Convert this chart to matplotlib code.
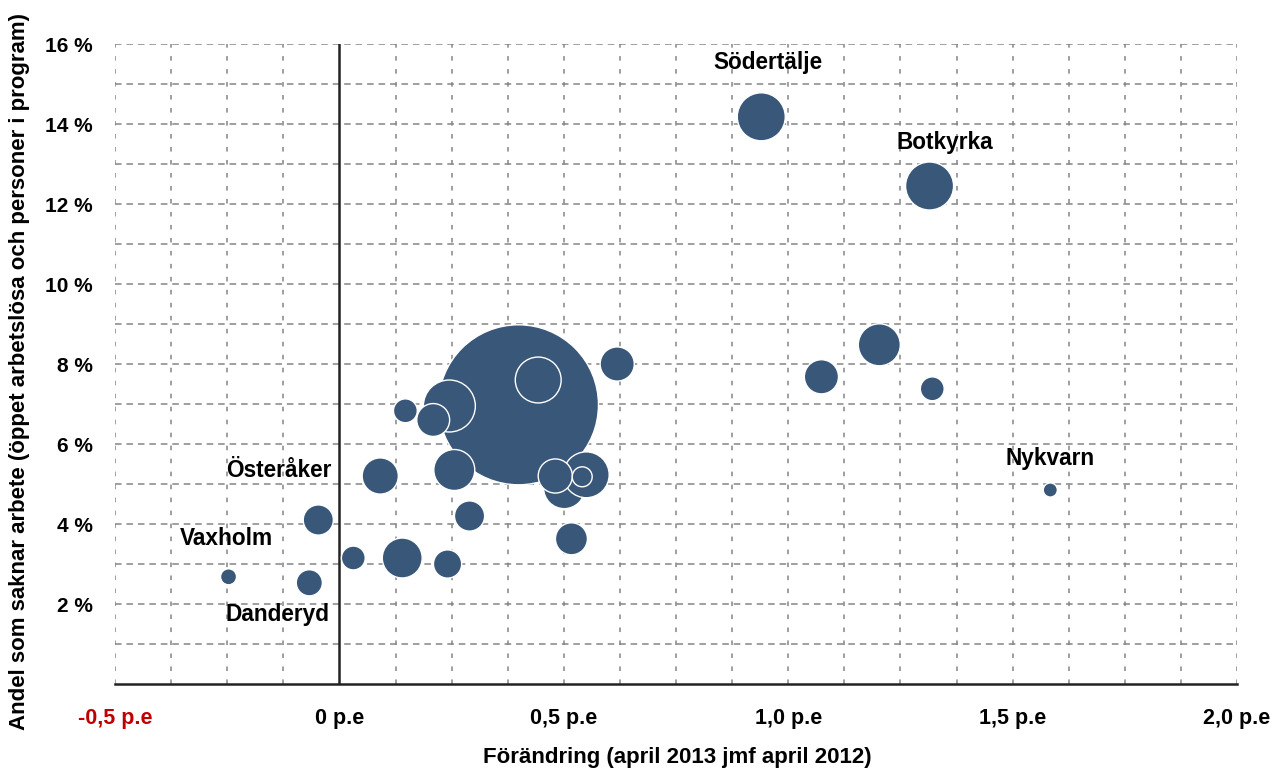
import numpy as np
import matplotlib.pyplot as plt

plt.rcParams['font.family'] = ['Liberation Sans', 'DejaVu Sans']
plt.rcParams['font.weight'] = 'bold'

# -------------------------------
# Data
# -------------------------------
# change in percentage points, April 2013 vs April 2012
change = [0.399, 0.443, 0.940, 1.315, 0.619, 0.245, 0.209, 0.147, 0.091, 0.256,
          0.501, 0.550, 0.481, 0.541, 0.290, 0.517, 0.140, 0.031, 0.241, -0.047,
          -0.067, -0.247, 1.584, 1.074, 1.203, 1.321]
# share without work (%)
share = [6.98, 7.60, 14.18, 12.45, 8.00, 6.95, 6.60, 6.83, 5.20, 5.35,
         4.90, 5.23, 5.20, 5.18, 4.20, 3.63, 3.15, 3.15, 3.00, 4.10,
         2.53, 2.68, 4.85, 7.68, 8.48, 7.38]
# bubble size (population, thousands, estimated)
population = [900, 74, 81, 81, 41, 95, 38, 20, 46, 59,
              60, 74, 41, 14, 32, 36, 56, 20, 28, 32,
              24, 9, 7, 41, 62, 20]

label_names = ["Södertälje", "Botkyrka", "Nykvarn", "Österåker", "Vaxholm", "Danderyd"]
label_x = [0.954, 1.348, 1.584, -0.136, -0.252, -0.138]
label_y = [15.55, 13.55, 5.63, 5.33, 3.63, 1.73]

xtick_vals = [-0.5, 0.0, 0.5, 1.0, 1.5, 2.0]
xtick_labels = ["-0,5 p.e", "0 p.e", "0,5 p.e", "1,0 p.e", "1,5 p.e", "2,0 p.e"]
ytick_vals = [2, 4, 6, 8, 10, 12, 14, 16]
ytick_labels = [f"{v} %" for v in ytick_vals]

# -------------------------------
# Figure
# -------------------------------
W, H = 1274, 772
fig = plt.figure(figsize=(W / 100, H / 100), dpi=100)
ax = fig.add_axes([115 / W, 1 - 684 / H, (1237 - 115) / W, (684 - 44) / H])

size_scale = (1.44 * 80) ** 2 / 900
ax.scatter(change, share, s=np.array(population) * size_scale, c="#395779",
           edgecolors="white", linewidths=1.0, zorder=3)

ax.set_xlim(-0.5, 2.0)
ax.set_ylim(0, 16)

ax.set_xticks(xtick_vals)
ax.set_xticklabels(xtick_labels)
ax.set_yticks(ytick_vals)
ax.set_yticklabels(ytick_labels)

ax.tick_params(which="both", length=0)
ax.tick_params(axis="x", pad=17, labelsize=15.5)
ax.tick_params(axis="y", pad=16, labelsize=15)
ax.get_xticklabels()[0].set_color("#c00000")

# dotted grid: horizontal every 1 %, vertical every 0.125 p.e
grid_col = "#858585"
for gy in np.arange(1, 16.5, 1):
    ax.axhline(gy, color=grid_col, linewidth=1.1, linestyle=(0, (4.3, 3.2)), zorder=0)
for gx in np.arange(-0.5, 2.001, 0.125):
    if gx != 0:
        ax.axvline(gx, color=grid_col, linewidth=1.1, linestyle=(0, (3, 5.5)), zorder=0)

for side in ["top", "right", "left"]:
    ax.spines[side].set_visible(False)
ax.spines["bottom"].set_linewidth(1.8)
ax.spines["bottom"].set_color("#222222")
ax.spines["bottom"].set_zorder(4)
ax.axvline(0, color="#222222", linewidth=1.8, zorder=2)

for name, lx, ly in zip(label_names, label_x, label_y):
    ax.text(lx, ly, name, ha="center", va="center", fontsize=16.3, fontweight="bold", zorder=5)

fig.text(677 / W, 1 - 758 / H, "Förändring (april 2013 jmf april 2012)",
         ha="center", va="center", fontsize=16)
fig.text(20 / W, 1 - 372 / H, "Andel som saknar arbete (öppet arbetslösa och personer i program)",
         ha="center", va="center", rotation=90, fontsize=16)

fig.savefig("out.png", dpi=100)
